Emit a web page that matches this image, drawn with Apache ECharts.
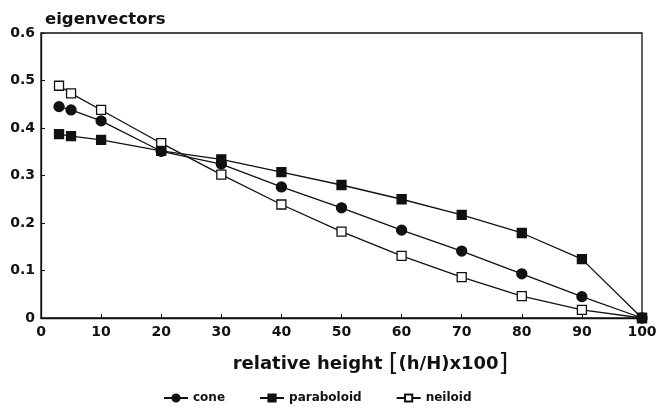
<!DOCTYPE html>
<html>
<head>
<meta charset="utf-8">
<script src="https://cdn.jsdelivr.net/npm/echarts@6/dist/echarts.min.js"></script>
<style>
  html, body { margin: 0; padding: 0; background: #fff; }
  #chart { width: 657px; height: 417px; }
</style>
</head>
<body>
<div id="chart"></div>
<script>
// relative height positions (h/H x 100)
const heights = [3, 5, 10, 20, 30, 40, 50, 60, 70, 80, 90, 100]
const cone = [0.445, 0.438, 0.415, 0.351, 0.324, 0.276, 0.232, 0.185, 0.141, 0.093, 0.045, 0]
const paraboloid = [0.387, 0.383, 0.375, 0.352, 0.334, 0.307, 0.280, 0.250, 0.217, 0.179, 0.124, 0]
const neiloid = [0.489, 0.473, 0.438, 0.368, 0.302, 0.239, 0.182, 0.131, 0.086, 0.046, 0.017, 0]

const pairs = (ys) => heights.map((h, i) => [h, ys[i]])
const font = 'DejaVu Sans, Arial, sans-serif'

const chart = echarts.init(document.getElementById('chart'))

const lineSeries = (name, data, symbol, fill, z) => ({
  name: name,
  type: 'line',
  data: pairs(data),
  symbol: symbol,
  symbolSize: name === 'cone' ? 10 : 9,
  lineStyle: { color: '#111', width: 1.3 },
  itemStyle: { color: fill, borderColor: '#111', borderWidth: 1.3 },
  z: z
})

chart.setOption({
  animation: false,
  title: {
    text: 'eigenvectors',
    left: 40,
    top: 6,
    textStyle: { fontFamily: font, fontWeight: 'bold', fontSize: 16.5, color: '#111' }
  },
  legend: {
    top: 387,
    left: 158,
    itemGap: 34,
    itemWidth: 24,
    itemHeight: 9,
    textStyle: { fontFamily: font, fontWeight: 'bold', fontSize: 12, color: '#111' },
    data: ['cone', 'paraboloid', 'neiloid']
  },
  grid: {
    left: 41,
    right: 15,
    top: 33,
    bottom: 99,
    outerBoundsMode: 'none',
    show: true,
    borderColor: '#111',
    borderWidth: 1.3
  },
  xAxis: {
    type: 'value',
    min: 0,
    max: 100,
    interval: 10,
    name: 'relative height {b|[}(h/H)x100{b|]}',
    nameLocation: 'middle',
    nameGap: 34,
    nameTextStyle: {
      fontFamily: font, fontWeight: 'bold', fontSize: 18, color: '#111',
      padding: [0, 0, 0, 58],
      rich: { b: { fontFamily: font, fontSize: 25, fontWeight: 'normal', color: '#111' } }
    },
    axisLine: { lineStyle: { color: '#111', width: 1.3 } },
    axisTick: { inside: true, length: 4, lineStyle: { color: '#111' } },
    axisLabel: { fontFamily: font, fontWeight: 'bold', fontSize: 14, color: '#111', margin: 7 },
    splitLine: { show: false }
  },
  yAxis: {
    type: 'value',
    min: 0,
    max: 0.6,
    interval: 0.1,
    axisLine: { show: true, lineStyle: { color: '#111', width: 1.3 } },
    axisTick: { show: true, inside: true, length: 4, lineStyle: { color: '#111' } },
    axisLabel: {
      fontFamily: font, fontWeight: 'bold', fontSize: 14, color: '#111', margin: 6,
      formatter: (v) => v === 0 ? '0' : v.toFixed(1)
    },
    splitLine: { show: false }
  },
  series: [
    lineSeries('cone', cone, 'circle', '#111', 2),
    lineSeries('paraboloid', paraboloid, 'rect', '#111', 4),
    lineSeries('neiloid', neiloid, 'rect', '#fff', 3)
  ]
})
</script>
</body>
</html>
